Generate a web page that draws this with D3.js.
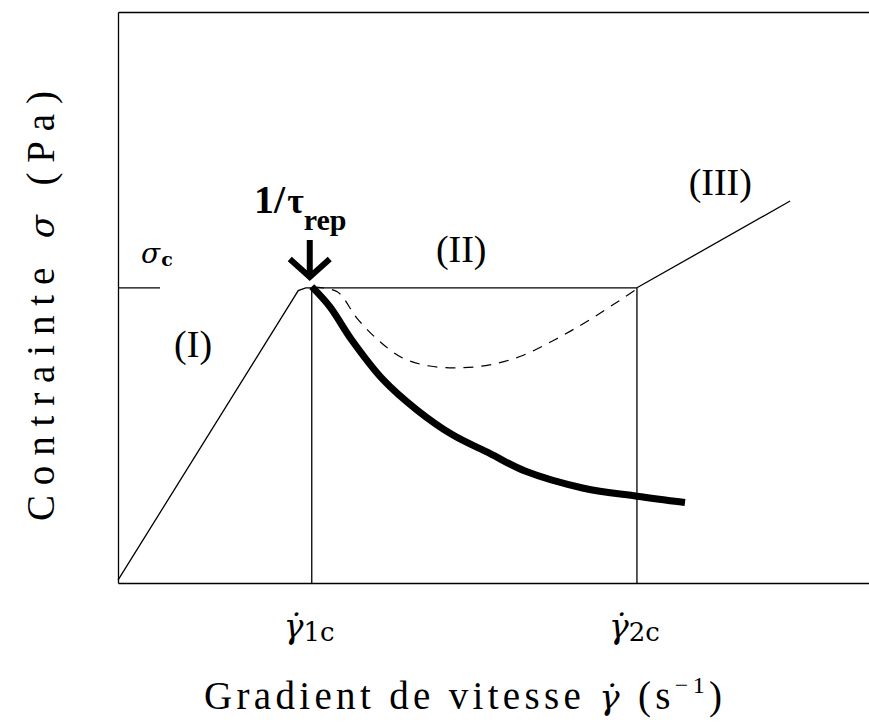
<!DOCTYPE html>
<html>
<head>
<meta charset="utf-8">
<script src="https://cdn.jsdelivr.net/npm/d3@7"></script>
<style>
  html, body { margin: 0; padding: 0; background: #fff; }
  svg { display: block; }
</style>
</head>
<body>
<div id="chart"></div>
<script>
// Schematic flow curve: stress vs shear rate (arbitrary units 0..100)
var sigmaC = 51.7;
var gammaTicks = [25.8, 69.1];
var gammaTickSubs = ['1c', '2c'];

var regimeI_x = [0, 24.0, 25.0, 25.8];
var regimeI_y = [0.5, 51.2, 51.7, 51.7];

var regimeIII_x = [69.1, 89.5];
var regimeIII_y = [sigmaC, 66.9];

var thick_x = [25.8, 28.2, 31.1, 35.3, 39.8, 44.6, 49.5, 54.2, 62.0, 69.1, 75.5];
var thick_y = [51.9, 48.4, 42.6, 35.6, 30.3, 25.9, 22.7, 19.6, 16.6, 15.2, 14.1];

var dash_x = [26.1, 29.2, 31.8, 34.6, 37.9, 41.5, 45.5, 49.5, 53.8, 58.3, 62.8, 69.1];
var dash_y = [51.8, 51.0, 46.4, 42.6, 39.4, 38.0, 37.7, 38.2, 39.8, 42.7, 46.1, 51.5];

var regimeLabels = ['(I)', '(II)', '(III)'];
var regimeLabel_x = [10.0, 45.7, 80.2];
var regimeLabel_y = [39.5, 56.2, 68.0];

var W = 869, H = 723;
var svg = d3.select('#chart').append('svg').attr('width', W).attr('height', H);

var x = d3.scaleLinear().domain([0, 100]).range([118, 869]);
var y = d3.scaleLinear().domain([0, 100]).range([583, 12]);

function zip(xs, ys){ return xs.map(function(v, i){ return [v, ys[i]]; }); }

// Frame: left, bottom, top (no ticks)
svg.append('g').attr('transform', 'translate(0,' + y(0) + ')')
    .call(d3.axisBottom(x).tickValues([]).tickSizeOuter(0));
svg.append('g').attr('transform', 'translate(' + x(0) + ',0)')
    .call(d3.axisLeft(y).tickValues([]).tickSizeOuter(0));
svg.append('g').attr('transform', 'translate(0,' + y(100) + ')')
    .call(d3.axisTop(x).tickValues([]).tickSizeOuter(0));
svg.selectAll('.domain').attr('stroke', '#000').attr('stroke-width', 1.3);

var straight = d3.line().x(function(d){ return x(d[0]); }).y(function(d){ return y(d[1]); });
var smooth = d3.line().x(function(d){ return x(d[0]); }).y(function(d){ return y(d[1]); })
    .curve(d3.curveCatmullRom.alpha(0.5));

var thin = { stroke: '#000', 'stroke-width': 1.3, fill: 'none' };
function addPath(d, gen, attrs){
    var p = svg.append('path').attr('d', gen(d));
    Object.keys(attrs).forEach(function(k){ p.attr(k, attrs[k]); });
    return p;
}

// sigma_c mark on the y axis
addPath([[0, sigmaC], [5.6, sigmaC]], straight, thin);
// Regime I
addPath(zip(regimeI_x, regimeI_y), straight, thin);
// Plateau
addPath([[gammaTicks[0], sigmaC], [gammaTicks[1], sigmaC]], straight, thin);
// Verticals at critical rates
gammaTicks.forEach(function(g){ addPath([[g, 0], [g, sigmaC]], straight, thin); });
// Regime III
addPath(zip(regimeIII_x, regimeIII_y), straight, thin);
// Dashed curve
addPath(zip(dash_x, dash_y), smooth, { stroke: '#000', 'stroke-width': 1.2, fill: 'none', 'stroke-dasharray': '10,8' });
// Thick curve
addPath(zip(thick_x, thick_y), smooth, { stroke: '#000', 'stroke-width': 7, fill: 'none', 'stroke-linejoin': 'round' });

// Arrow at 1/tau_rep
var ax = x(gammaTicks[0]) - 2;
svg.append('path')
    .attr('d', 'M' + ax + ',' + 240 + 'V' + 276 + 'M' + (ax - 20) + ',' + 259 + 'L' + ax + ',' + 277 + 'L' + (ax + 20) + ',' + 259)
    .attr('stroke', '#000').attr('stroke-width', 6).attr('fill', 'none')
    .attr('stroke-linejoin', 'miter');

// 1/tau_rep label
var tau = svg.append('text').attr('x', 254).attr('y', 213)
    .attr('font-family', 'Liberation Serif').attr('font-weight', 'bold').attr('font-size', 40);
tau.append('tspan').text('1/');
tau.append('tspan').attr('font-size', 36).attr('dx', 2).text('τ');
tau.append('tspan').attr('font-size', 30).attr('dy', 17).attr('dx', 0).text('rep');

// sigma_c label
var sc = svg.append('text').attr('x', 141).attr('y', 263)
    .attr('font-family', 'DejaVu Serif').attr('font-size', 28);
sc.append('tspan').attr('font-style', 'italic').text('σ');
sc.append('tspan').attr('font-size', 19).attr('font-weight', 'bold').attr('dy', 3).attr('dx', 1).text('c');

// Regime labels
svg.selectAll('.regime').data(regimeLabels).join('text')
    .attr('class', 'regime')
    .attr('x', function(d, i){ return x(regimeLabel_x[i]); })
    .attr('y', function(d, i){ return y(regimeLabel_y[i]); })
    .attr('text-anchor', 'middle')
    .attr('font-family', 'Liberation Serif').attr('font-size', 38)
    .text(function(d){ return d; });

// Tick labels gamma-dot
var tl = svg.selectAll('.tick-lab').data(gammaTicks).join('text')
    .attr('class', 'tick-lab')
    .attr('x', function(d){ return x(d) - 28; })
    .attr('y', 638)
    .attr('font-family', 'DejaVu Serif').attr('font-size', 33);
tl.append('tspan').attr('font-style', 'italic').text('γ\u0307');
tl.append('tspan').attr('font-size', 26).attr('dy', 3).text(function(d, i){ return gammaTickSubs[i]; });

// X axis title
var xt = svg.append('text').attr('x', 204).attr('y', 709)
    .attr('font-family', 'Liberation Serif').attr('font-size', 39)
    .attr('textLength', 518).attr('lengthAdjust', 'spacing');
xt.append('tspan').text('Gradient de vitesse ');
xt.append('tspan').attr('font-style', 'italic').attr('font-family', 'DejaVu Serif').attr('font-size', 34).text('γ\u0307');
xt.append('tspan').text(' (s');
xt.append('tspan').attr('font-size', 24).attr('dy', -16).text('−1');
xt.append('tspan').attr('dy', 16).text(')');

// Y axis title
var yt = svg.append('text')
    .attr('transform', 'translate(54,521) rotate(-90)')
    .attr('font-family', 'Liberation Serif').attr('font-size', 39)
    .attr('textLength', 430).attr('lengthAdjust', 'spacing');
yt.append('tspan').text('Contrainte ');
yt.append('tspan').attr('font-style', 'italic').attr('font-family', 'DejaVu Serif').attr('font-size', 34).text('σ');
yt.append('tspan').text(' (Pa)');
</script>
</body>
</html>
